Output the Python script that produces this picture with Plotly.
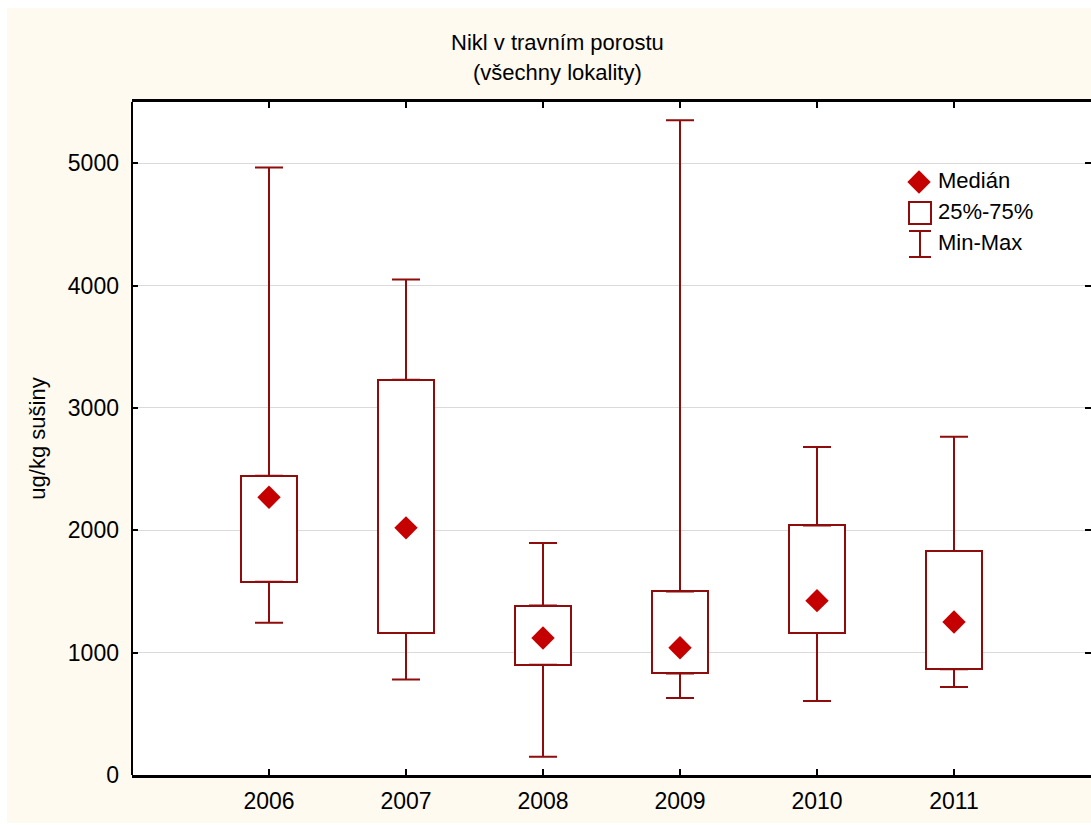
import plotly.graph_objects as go

# Nikl v travním porostu – souhrnné statistiky po letech (ug/kg sušiny)
years = ["2006", "2007", "2008", "2009", "2010", "2011"]
min_vals = [1245, 780, 150, 630, 605, 720]
q1_vals = [1580, 1160, 900, 830, 1160, 865]
median_vals = [2270, 2020, 1120, 1040, 1425, 1250]
q3_vals = [2445, 3230, 1385, 1500, 2040, 1830]
max_vals = [4965, 4050, 1895, 5350, 2680, 2765]

y_ticks = [0, 1000, 2000, 3000, 4000, 5000]
legend_labels = ["Medián", "25%-75%", "Min-Max"]

BOX = "#8E0C0C"
MED = "#C40000"
CREAM = "#FEFAF0"
GRID = "#DADADA"
FONT = "Liberation Sans, Arial, sans-serif"

W, H = 1091, 825
L, T, B, R = 132, 102, 50, 0
PW, PH = W - L - R, H - T - B


def fx(p):
    """pixel column -> paper x"""
    return (p - L) / PW


def fy(p):
    """pixel row -> paper y"""
    return (H - B - p) / PH


fig = go.Figure()

# 25%-75% boxes
fig.add_bar(
    x=years,
    y=[b - a for a, b in zip(q1_vals, q3_vals)],
    base=q1_vals,
    width=0.41,
    marker=dict(color="white", line=dict(color=BOX, width=2)),
    showlegend=False,
)

# whiskers: upper (Q3 -> max) and lower (min -> Q1)
fig.add_scatter(
    x=years, y=q3_vals, mode="markers",
    marker=dict(size=1, opacity=0),
    error_y=dict(type="data", symmetric=False,
                 array=[m - q for q, m in zip(q3_vals, max_vals)],
                 arrayminus=[0] * len(years),
                 width=14, thickness=2, color=BOX),
    showlegend=False,
)
fig.add_scatter(
    x=years, y=q1_vals, mode="markers",
    marker=dict(size=1, opacity=0),
    error_y=dict(type="data", symmetric=False,
                 array=[0] * len(years),
                 arrayminus=[q - m for q, m in zip(q1_vals, min_vals)],
                 width=14, thickness=2, color=BOX),
    showlegend=False,
)

# medians
fig.add_scatter(
    x=years, y=median_vals, mode="markers",
    marker=dict(symbol="diamond", size=18, color=MED),
    showlegend=False,
)

# legend drawn on its own small axis pair
fig.add_scatter(x=[19], y=[83], mode="markers", xaxis="x2", yaxis="y2",
                marker=dict(symbol="diamond", size=18, color=MED), showlegend=False)
fig.add_scatter(x=[20], y=[52], mode="markers", xaxis="x2", yaxis="y2",
                marker=dict(symbol="square-open", size=22, color=BOX,
                            line=dict(width=2, color=BOX)), showlegend=False)
fig.add_scatter(x=[20], y=[21], mode="markers", xaxis="x2", yaxis="y2",
                marker=dict(size=1, opacity=0),
                error_y=dict(type="constant", value=13, width=11, thickness=2, color=BOX),
                showlegend=False)
fig.add_scatter(x=[38, 38, 38], y=[83, 52, 21], mode="text", xaxis="x2", yaxis="y2",
                text=legend_labels, textposition="middle right",
                textfont=dict(family=FONT, size=22, color="black"), showlegend=False)

fig.update_layout(
    width=W, height=H,
    margin=dict(l=L, r=R, t=T, b=B, pad=0, autoexpand=False),
    paper_bgcolor="white",
    plot_bgcolor="white",
    font=dict(family=FONT, size=22, color="black"),
    hovermode=False,
    bargap=0,
    xaxis=dict(
        type="category", range=[-1, 6], domain=[0, 1],
        showline=True, linecolor="black", linewidth=2.5, mirror="ticks",
        ticks="inside", ticklen=6, tickwidth=1.5, tickcolor="black",
        showgrid=False, zeroline=False,
        tickfont=dict(family=FONT, size=23, color="black"),
        ticklabelstandoff=4,
    ),
    yaxis=dict(
        range=[0, 5500], tickvals=y_ticks,
        showline=False, mirror="ticks",
        ticks="inside", ticklen=6, tickwidth=1.5, tickcolor="black",
        showgrid=True, gridcolor=GRID, gridwidth=1, zeroline=False,
        tickfont=dict(family=FONT, size=23, color="black"),
        ticklabelstandoff=12,
        title=dict(text="ug/kg sušiny", font=dict(family=FONT, size=22, color="black"),
                   standoff=16),
    ),
    xaxis2=dict(domain=[fx(900), fx(1060)], range=[0, 160], anchor="y2", visible=False),
    yaxis2=dict(domain=[fy(265), fy(165)], range=[0, 100], anchor="x2", visible=False),
    shapes=[
        dict(type="rect", xref="paper", yref="paper", layer="below",
             x0=fx(7), x1=1.01, y0=fy(823), y1=fy(8),
             fillcolor=CREAM, line=dict(width=0)),
        dict(type="rect", xref="paper", yref="paper", layer="below",
             x0=0, x1=1, y0=0, y1=1, fillcolor="white", line=dict(width=0)),
        dict(type="line", xref="paper", yref="paper", layer="above",
             x0=0, x1=0, y0=0, y1=1, line=dict(color="black", width=2)),
    ],
    annotations=[
        dict(text="Nikl v travním porostu", xref="paper", yref="paper",
             x=fx(557), y=fy(42), xanchor="center", yanchor="middle",
             showarrow=False, font=dict(family=FONT, size=22, color="black")),
        dict(text="(všechny lokality)", xref="paper", yref="paper",
             x=fx(557), y=fy(73), xanchor="center", yanchor="middle",
             showarrow=False, font=dict(family=FONT, size=22, color="black")),
    ],
)

fig.write_html("out.html", config=dict(displayModeBar=False))
